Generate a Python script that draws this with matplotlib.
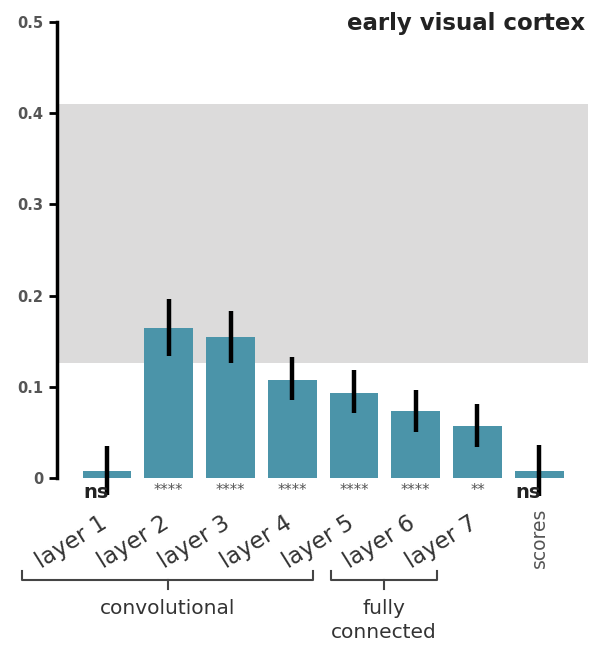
import numpy as np
import matplotlib.pyplot as plt
from matplotlib.transforms import blended_transform_factory

# values
labels = ["layer 1", "layer 2", "layer 3", "layer 4", "layer 5", "layer 6", "layer 7", "scores"]
means = [0.008, 0.164, 0.155, 0.108, 0.093, 0.073, 0.057, 0.008]
err_low = [-0.019, 0.134, 0.126, 0.085, 0.071, 0.050, 0.034, -0.020]
err_high = [0.035, 0.196, 0.183, 0.133, 0.118, 0.097, 0.081, 0.036]
sig = ["ns", "****", "****", "****", "****", "****", "**", "ns"]
ceiling_low, ceiling_high = 0.126, 0.41
groups = [("convolutional", 0, 4), ("fully\nconnected", 5, 6)]

bar_color = "#4b94a9"
text_color = "#333333"

fig = plt.figure(figsize=(5.91, 6.46), dpi=100)
ax = fig.add_axes([57 / 591, 1 - 478 / 646, 531 / 591, 456 / 646])

x = np.arange(len(labels))

# noise ceiling band
ax.axhspan(ceiling_low, ceiling_high, color="#dcdbdb", lw=0, zorder=0)

ax.bar(x, means, width=0.79, color=bar_color, zorder=2)
ax.vlines(x, err_low, err_high, color="black", lw=3.2, zorder=3, clip_on=False)

ax.set_xlim(-0.81, 7.79)
ax.set_ylim(0, 0.5)
ax.set_yticks([0, 0.1, 0.2, 0.3, 0.4, 0.5])
ax.set_yticklabels(["0", "0.1", "0.2", "0.3", "0.4", "0.5"],
                   fontweight="bold", fontsize=10.5, color="#555555")
ax.tick_params(axis="y", length=6, width=2, pad=4)
ax.set_xticks([])
for s in ["top", "right", "bottom"]:
    ax.spines[s].set_visible(False)
ax.spines["left"].set_linewidth(2.5)

# significance marks under the bars
for i, s in enumerate(sig):
    if s == "ns":
        ax.annotate(s, xy=(i, 0), xytext=(1, -14.5), textcoords="offset points",
                    ha="right", va="baseline", fontsize=14, fontweight="bold",
                    color="#222222", annotation_clip=False)
    else:
        ax.annotate(s, xy=(i, 0), xytext=(0, -12), textcoords="offset points",
                    ha="center", va="baseline", fontsize=10.5, color="#555555",
                    annotation_clip=False)

# category labels
for i, lab in enumerate(labels):
    if lab == "scores":
        ax.annotate(lab, xy=(i, 0), xytext=(0, -21), textcoords="offset points",
                    rotation=90, rotation_mode="anchor", ha="right", va="center",
                    fontsize=13.5, color="#555555", annotation_clip=False)
    else:
        ax.annotate(lab, xy=(i, 0), xytext=(-6, -24), textcoords="offset points",
                    rotation=32, rotation_mode="anchor", ha="right", va="top",
                    fontsize=16.5, color=text_color, annotation_clip=False)

# group brackets
trans = blended_transform_factory(ax.transData, fig.transFigure)
y_bar, y_end, y_mid = 1 - 580 / 646, 1 - 571 / 646, 1 - 589 / 646
for name, first, last in groups:
    left, right = first - 1.38, last - 0.66
    mid = (left + right) / 2
    ax.plot([left, left, right, right], [y_end, y_bar, y_bar, y_end],
            color="#444444", lw=1.5, transform=trans, clip_on=False)
    ax.plot([mid, mid], [y_bar, y_mid], color="#444444", lw=1.5,
            transform=trans, clip_on=False)
    ax.text(mid, 1 - 599 / 646, name, transform=trans, ha="center", va="top",
            fontsize=14.5, color=text_color, linespacing=1.3)

fig.text(585 / 591, 1 - 12 / 646, "early visual cortex", ha="right", va="top",
         fontsize=16.5, fontweight="bold", color="#222222")

fig.savefig("out.png", dpi=100)
